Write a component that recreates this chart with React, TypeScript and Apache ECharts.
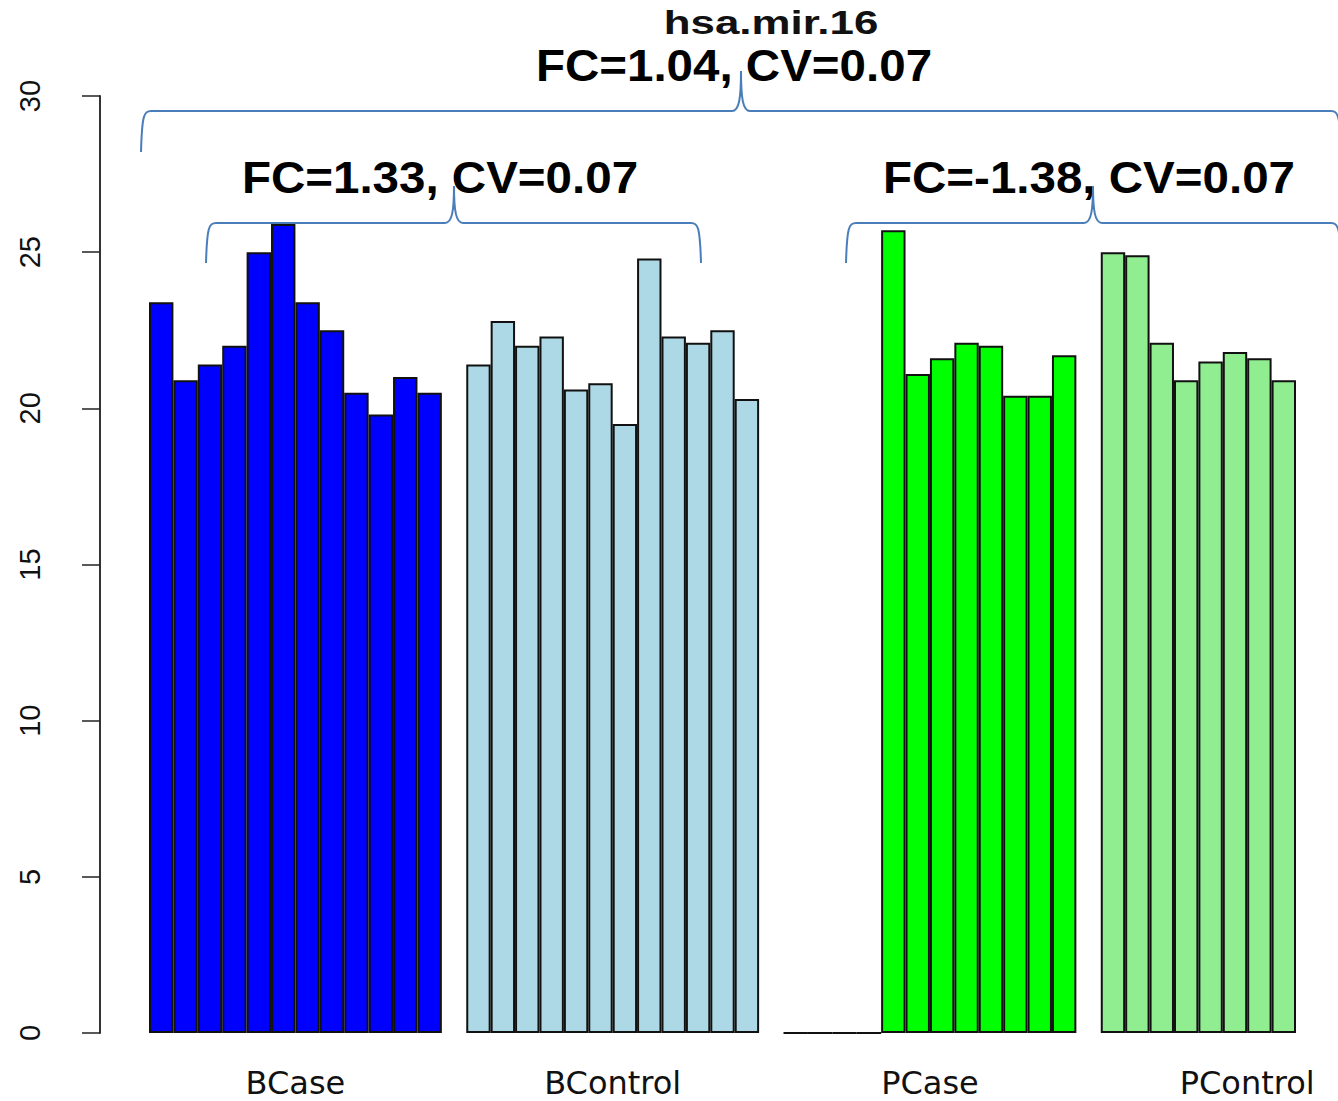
import React, { useEffect, useRef } from 'react';
import * as echarts from 'echarts';

// ---- data ----
const groupNames = ['BCase', 'BControl', 'PCase', 'PControl'];
const bCase = [23.4, 20.9, 21.4, 22.0, 25.0, 25.9, 23.4, 22.5, 20.5, 19.8, 21.0, 20.5];
const bControl = [21.4, 22.8, 22.0, 22.3, 20.6, 20.8, 19.5, 24.8, 22.3, 22.1, 22.5, 20.3];
const pCase = [0, 0, 0, 0, 25.7, 21.1, 21.6, 22.1, 22.0, 20.4, 20.4, 21.7];
const pControl = [25.0, 24.9, 22.1, 20.9, 21.5, 21.8, 21.6, 20.9];
const groupColors = ['#0000FF', '#ADD8E6', '#00FF00', '#90EE90'];
const groupSize = 12;
const yMin = 0;
const yMax = 30;
const yStep = 5;
const titleText = 'hsa.mir.16';
const fcTop = 'FC=1.04, CV=0.07';
const fcB = 'FC=1.33, CV=0.07';
const fcP = 'FC=-1.38, CV=0.07';

const groupValues = [bCase, bControl, pCase, pControl];

// build slot list (one empty slot between groups)
const slots: any[] = [];
const slotCats: string[] = [];
const labelPos: number[] = [];
groupValues.forEach((vals, gi) => {
  const start = slots.length;
  labelPos.push(start + (groupSize - 1) / 2);
  vals.forEach((v) => {
    slots.push({ value: v, itemStyle: { color: groupColors[gi] } });
  });
  if (gi < groupValues.length - 1) slots.push('-');
});
slots.forEach((_, i) => slotCats.push(String(i)));

const braceColor = '#4a7ebb';

function brace(xl: number, xr: number, xt: number, yh: number, yt: number, ye: number) {
  const st = { stroke: braceColor, lineWidth: 2, fill: 'none' };
  return [
    { type: 'bezierCurve', silent: true, shape: { x1: xl, y1: ye, cpx1: xl + 1, cpy1: yh + 4, cpx2: xl + 3, cpy2: yh, x2: xl + 10, y2: yh }, style: st },
    { type: 'line', silent: true, shape: { x1: xl + 10, y1: yh, x2: xt - 9, y2: yh }, style: st },
    { type: 'bezierCurve', silent: true, shape: { x1: xt - 9, y1: yh, cpx1: xt - 2, cpy1: yh, cpx2: xt, cpy2: yh - 12, x2: xt, y2: yt }, style: st },
    { type: 'bezierCurve', silent: true, shape: { x1: xt, y1: yt, cpx1: xt, cpy1: yh - 12, cpx2: xt + 2, cpy2: yh, x2: xt + 9, y2: yh }, style: st },
    { type: 'line', silent: true, shape: { x1: xt + 9, y1: yh, x2: xr - 10, y2: yh }, style: st },
    { type: 'bezierCurve', silent: true, shape: { x1: xr - 10, y1: yh, cpx1: xr - 3, cpy1: yh, cpx2: xr - 1, cpy2: yh + 4, x2: xr, y2: ye }, style: st },
  ];
}

export default function App() {
  const ref = useRef<HTMLDivElement>(null);
  useEffect(() => {
    if (!ref.current) return;
    const chart = echarts.init(ref.current, undefined, { renderer: 'svg' });
    const option: any = {
      animation: false,
      grid: { left: 149, right: 42, top: 96, bottom: 68, containLabel: false },
      xAxis: [
        {
          type: 'category',
          data: slotCats,
          boundaryGap: true,
          axisLine: { show: false },
          axisTick: { show: false },
          axisLabel: { show: false },
          splitLine: { show: false },
        },
        {
          type: 'value',
          position: 'bottom',
          min: -0.5,
          max: slots.length - 0.5,
          axisLine: { show: false },
          axisTick: { show: false },
          splitLine: { show: false },
          axisLabel: {
            customValues: labelPos,
            formatter: (v: number) => {
              const i = labelPos.findIndex((p) => Math.abs(p - v) < 1e-6);
              return i >= 0 ? groupNames[i] : '';
            },
            fontFamily: 'DejaVu Sans',
            fontSize: 32,
            lineHeight: 24,
            color: '#111',
            margin: 38,
          },
        },
      ],
      yAxis: {
        type: 'value',
        min: yMin,
        max: yMax,
        interval: yStep,
        offset: 49,
        axisLine: { show: true, onZero: false, lineStyle: { color: '#333', width: 2 } },
        axisTick: { show: true, length: 18, lineStyle: { color: '#222', width: 1.5 } },
        axisLabel: {
          rotate: 90,
          fontFamily: 'Liberation Sans',
          fontSize: 29,
          color: '#111',
          margin: 56,
        },
        splitLine: { show: false },
      },
      series: [
        {
          type: 'bar',
          xAxisIndex: 0,
          yAxisIndex: 0,
          data: slots,
          barCategoryGap: '0%',
          itemStyle: { borderColor: '#111', borderWidth: 2 },
          emphasis: { disabled: true },
        },
      ],
      graphic: [
        {
          type: 'text',
          x: 771,
          y: 23,
          scaleX: 1.33,
          silent: true,
          style: { text: titleText, font: 'bold 33px "Liberation Sans"', fill: '#111', textAlign: 'center', textVerticalAlign: 'middle' },
        },
        {
          type: 'text',
          x: 734,
          y: 66,
          scaleX: 1.08,
          silent: true,
          style: { text: fcTop, font: 'bold 44px "Liberation Sans"', fill: '#000', textAlign: 'center', textVerticalAlign: 'middle' },
        },
        {
          type: 'text',
          x: 440,
          y: 178,
          scaleX: 1.08,
          silent: true,
          style: { text: fcB, font: 'bold 44px "Liberation Sans"', fill: '#000', textAlign: 'center', textVerticalAlign: 'middle' },
        },
        {
          type: 'text',
          x: 1089,
          y: 178,
          scaleX: 1.08,
          silent: true,
          style: { text: fcP, font: 'bold 44px "Liberation Sans"', fill: '#000', textAlign: 'center', textVerticalAlign: 'middle' },
        },
        ...brace(141, 1341, 741, 111, 71, 152),
        ...brace(206, 701, 454, 223, 186, 263),
        ...brace(846, 1341, 1093, 223, 186, 263),
      ],
    };
    chart.setOption(option);
    return () => chart.dispose();
  }, []);
  return (
    <div
      ref={ref}
      style={{ position: 'absolute', left: 0, top: 0, width: 1338, height: 1101, background: '#fff' }}
    />
  );
}
